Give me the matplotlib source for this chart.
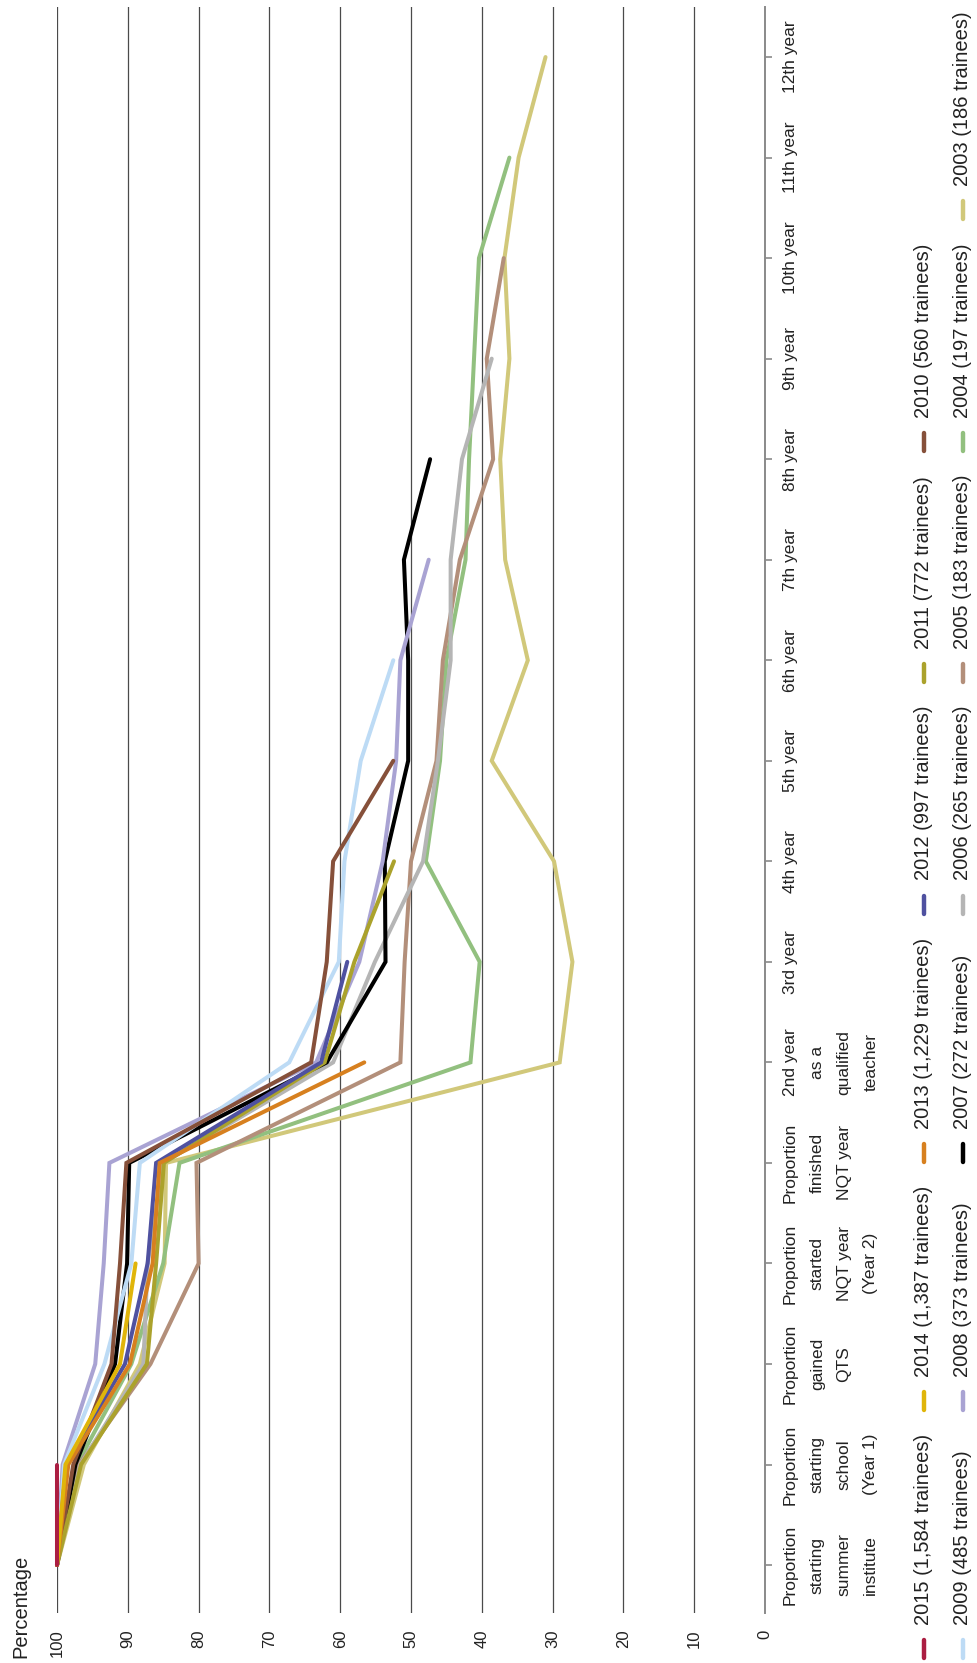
import matplotlib
matplotlib.use("Agg")
import matplotlib.pyplot as plt
from matplotlib.lines import Line2D

plt.rcParams["font.family"] = ["Liberation Sans", "DejaVu Sans"]

# -----------------------------
# Data (percent of each cohort still in post at each stage)
# -----------------------------
stages = [
    "Proportion\nstarting\nsummer\ninstitute",
    "Proportion\nstarting\nschool\n(Year 1)",
    "Proportion\ngained\nQTS",
    "Proportion\nstarted\nNQT year\n(Year 2)",
    "Proportion\nfinished\nNQT year",
    "2nd year\nas a\nqualified\nteacher",
    "3rd year", "4th year", "5th year", "6th year", "7th year",
    "8th year", "9th year", "10th year", "11th year", "12th year",
]

cohorts = [
    "2015 (1,584 trainees)", "2014 (1,387 trainees)", "2013 (1,229 trainees)",
    "2012 (997 trainees)", "2011 (772 trainees)", "2010 (560 trainees)",
    "2009 (485 trainees)", "2008 (373 trainees)", "2007 (272 trainees)",
    "2006 (265 trainees)", "2005 (183 trainees)", "2004 (197 trainees)",
    "2003 (186 trainees)",
]

colors = [
    "#ab1e42", "#e0b50a", "#d7801f", "#4f51a0", "#aba22c", "#86503a",
    "#bddbf5", "#a9a3d3", "#000000", "#b5b5b5", "#b38f7a", "#92c07f",
    "#d1c87a",
]

y2015 = [100, 100]
y2014 = [100, 98.8, 91.1, 88.9]
y2013 = [100, 98.4, 89.7, 86.5, 85.5, 56.6]
y2012 = [100, 98.7, 90.4, 87.2, 86.0, 62.7, 59.0]
y2011 = [100, 96.6, 87.3, 86.0, 84.9, 62.2, 58.0, 52.4]
y2010 = [100, 97.7, 92.3, 91.1, 90.2, 64.1, 61.9, 61.0, 52.5]
y2009 = [100, 99.0, 93.3, 89.5, 88.3, 67.2, 60.2, 59.4, 57.1, 52.5]
y2008 = [100, 99.2, 94.6, 93.4, 92.6, 63.4, 57.3, 54.0, 52.1, 51.5, 47.5]
y2007 = [100, 97.4, 91.8, 90.1, 89.8, 61.9, 53.6, 53.7, 50.4, 50.4, 51.0, 47.3]
y2006 = [100, 96.7, 87.8, 87.2, 85.0, 61.0, 55.1, 48.3, 46.2, 44.4, 44.4, 42.8,
         38.6]
y2005 = [100, 96.9, 86.8, 80.0, 80.3, 51.5, 50.9, 50.0, 46.4, 45.5, 43.1, 38.4,
         39.3, 36.9]
y2004 = [100, 97.2, 89.5, 85.0, 82.7, 41.6, 40.3, 47.9, 45.9, 45.0, 42.3, 41.8,
         41.1, 40.4, 36.1]
y2003 = [100, 96.2, 88.3, 84.8, 84.6, 29.0, 27.2, 29.8, 38.6, 33.5, 36.7, 37.4,
         36.1, 36.8, 34.8, 31.0]

series = [y2015, y2014, y2013, y2012, y2011, y2010, y2009, y2008, y2007,
          y2006, y2005, y2004, y2003]

pct_ticks = [0, 10, 20, 30, 40, 50, 60, 70, 80, 90, 100]

# -----------------------------
# Figure (chart is drawn turned on its side)
# -----------------------------
W, H = 978, 1663
fig = plt.figure(figsize=(W / 100, H / 100), dpi=100)
ax = fig.add_axes([57 / W, 1 - 1613 / H, (765 - 57) / W, (1613 - 7) / H])

text_color = "#222222"

# oldest cohort drawn first so the newest sit on top
for vals, col in reversed(list(zip(series, colors))):
    ax.plot(vals, range(len(vals)), color=col, lw=2.9,
            solid_joinstyle="miter", solid_capstyle="round", clip_on=False,
            zorder=3)

ax.set_xlim(100, 0)
ax.set_ylim(-0.477, 15.498)

for s in ["left", "top", "bottom"]:
    ax.spines[s].set_visible(False)
ax.spines["right"].set_color("#8a8a8a")
ax.spines["right"].set_linewidth(1.4)

ax.set_xticks(pct_ticks)
ax.set_xticklabels([str(v) for v in pct_ticks], rotation=90, fontsize=12,
                   color=text_color)
ax.tick_params(axis="x", length=0, pad=12)
ax.grid(axis="x", color="#4a4a4a", lw=0.9)
ax.set_axisbelow(True)

ax.yaxis.tick_right()
ax.set_yticks(range(len(stages)))
ax.set_yticklabels(stages, rotation=90, va="center", ha="left",
                   multialignment="center", linespacing=1.98, fontsize=12.5,
                   color=text_color)
ax.tick_params(axis="y", length=5, width=1.2, color="#8a8a8a", pad=8)

fig.text(21 / W, 5 / H, "Percentage", rotation=90, ha="center", va="bottom",
         fontsize=14.5, color=text_color)

# -----------------------------
# Legend: two rows, laid out by hand so the text can be turned
# -----------------------------
rows = [cohorts[:6], cohorts[6:]]
row_cols = [colors[:6], colors[6:]]
row_x = [924, 963]

fig.canvas.draw()
renderer = fig.canvas.get_renderer()

n_cols = max(len(r) for r in rows)
y0 = 5
for j in range(n_cols):
    lengths = []
    for r in range(2):
        if j >= len(rows[r]):
            continue
        x = row_x[r]
        fig.add_artist(Line2D([x / W, x / W], [y0 / H, (y0 + 18) / H],
                              color=row_cols[r][j], lw=3.2,
                              solid_capstyle="round"))
        t = fig.text(x / W, (y0 + 33) / H, rows[r][j], rotation=90,
                     ha="center", va="bottom", fontsize=14.5,
                     color=text_color)
        lengths.append(t.get_window_extent(renderer).height)
    y0 += 33 + max(lengths) + 24

fig.savefig("out.png", dpi=100)
